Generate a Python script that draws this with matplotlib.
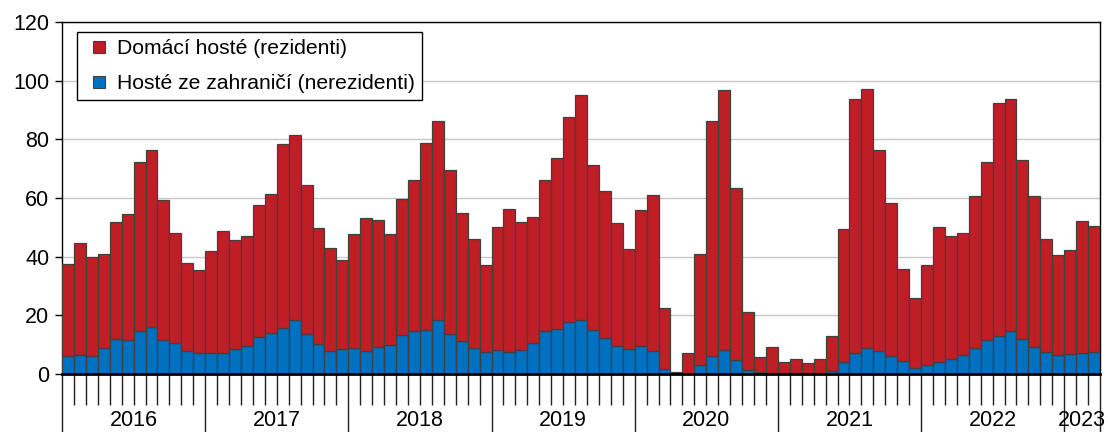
import numpy as np
import matplotlib
matplotlib.use("Agg")
import matplotlib.pyplot as plt
from matplotlib.lines import Line2D
from matplotlib.transforms import blended_transform_factory

plt.rcParams['font.family'] = ['Liberation Sans', 'DejaVu Sans']

# monthly data, Jan 2016 - Mar 2023
celkem = [37.6, 44.7, 40.0, 41.0, 51.9, 54.5, 72.2, 76.3, 59.2, 48.2, 37.9, 35.5,
          41.9, 48.7, 45.6, 46.9, 57.6, 61.3, 78.4, 81.4, 64.4, 49.8, 43.0, 38.7,
          47.7, 53.2, 52.4, 47.7, 59.7, 66.0, 78.9, 86.2, 69.5, 55.0, 46.0, 37.3,
          50.1, 56.1, 51.9, 53.5, 66.0, 73.5, 87.6, 95.1, 71.2, 62.4, 51.6, 42.5,
          55.8, 61.1, 22.6, 0.8, 7.1, 40.8, 86.3, 96.8, 63.5, 21.2, 5.8, 9.1,
          4.2, 5.1, 3.8, 5.2, 12.9, 49.5, 93.8, 97.2, 76.4, 58.2, 35.9, 25.9,
          37.3, 50.1, 47.0, 48.2, 60.6, 72.4, 92.4, 93.9, 72.9, 60.6, 46.1, 40.4,
          42.3, 52.0, 50.3]
nerezidenti = [6.2, 6.6, 6.3, 8.8, 12.0, 11.6, 14.6, 16.1, 11.5, 10.4, 8.0, 7.3,
               7.3, 7.3, 8.6, 9.7, 12.7, 14.0, 15.7, 18.5, 13.7, 10.3, 7.9, 8.4,
               9.0, 8.0, 9.1, 9.9, 13.3, 14.6, 15.1, 18.5, 13.7, 11.4, 8.8, 7.4,
               8.3, 7.5, 8.3, 10.7, 14.6, 15.2, 17.6, 18.5, 15.1, 12.3, 9.5, 8.6,
               9.6, 8.0, 1.7, 0.1, 0.1, 3.0, 6.2, 8.3, 4.9, 1.4, 0.6, 0.5,
               0.2, 0.2, 0.2, 0.2, 1.0, 4.0, 7.0, 8.9, 8.0, 6.2, 4.3, 2.1,
               3.0, 4.1, 5.0, 6.5, 8.9, 11.6, 13.0, 14.6, 11.9, 9.1, 7.5, 6.5,
               6.8, 7.2, 7.5]
roky = ['2016', '2017', '2018', '2019', '2020', '2021', '2022', '2023']
mesicu_v_roce = [12, 12, 12, 12, 12, 12, 12, 3]
popisky = ['Domácí hosté (rezidenti)', 'Hosté ze zahraničí (nerezidenti)']

celkem = np.array(celkem)
nerezidenti = np.array(nerezidenti)
rezidenti = celkem - nerezidenti
n = len(celkem)
x = np.arange(n)

red = '#BE1E24'
blue = '#0070C0'
edge = '#404040'
fs = 15.5

fig = plt.figure(figsize=(11.08, 4.32), dpi=100)
ax = fig.add_axes([62/1108, 1 - 374/432, 1038/1108, 352/432])

ax.bar(x, nerezidenti, width=1, color=blue, edgecolor=edge, linewidth=0.9, zorder=3)
ax.bar(x, rezidenti, bottom=nerezidenti, width=1, color=red, edgecolor=edge,
       linewidth=0.9, zorder=3)

ax.set_xlim(-0.5, n - 0.5)
ax.set_ylim(0, 120)
ax.set_yticks(np.arange(0, 121, 20))
ax.yaxis.grid(True, color='#c8c8c8', linewidth=1, zorder=0)
ax.tick_params(axis='y', labelsize=fs, length=5, width=1, pad=4)

# month ticks (short) and year ticks (long)
granice = np.cumsum([0] + mesicu_v_roce) - 0.5
ax.set_xticks(granice)
ax.set_xticklabels([])
ax.set_xticks(np.arange(n + 1) - 0.5, minor=True)
ax.tick_params(axis='x', which='major', length=42, width=1, color='#222222')
ax.tick_params(axis='x', which='minor', length=22, width=1, color='#222222')

trans = blended_transform_factory(ax.transData, ax.transAxes)
for i, rok in enumerate(roky):
    stred = (granice[i] + granice[i + 1]) / 2
    ax.text(stred, -47/352, rok, transform=trans, ha='center', va='center',
            fontsize=fs, clip_on=False)

for s in ['left', 'top', 'right']:
    ax.spines[s].set_color('black')
    ax.spines[s].set_linewidth(1)
ax.spines['bottom'].set_linewidth(2)
ax.spines['bottom'].set_zorder(5)

h = [Line2D([], [], marker='s', linestyle='none', markersize=8.5,
            markerfacecolor=c, markeredgecolor=edge, markeredgewidth=0.8)
     for c in (red, blue)]
leg = ax.legend(h, popisky, loc='upper left', bbox_to_anchor=(0.0145, 0.972),
                borderaxespad=0, fontsize=15.2, fancybox=False, edgecolor='black',
                framealpha=1, handlelength=1.4, handletextpad=0.15,
                labelspacing=0.75, borderpad=0.35)
leg.get_frame().set_linewidth(1)

fig.savefig('out.png', dpi=100)
